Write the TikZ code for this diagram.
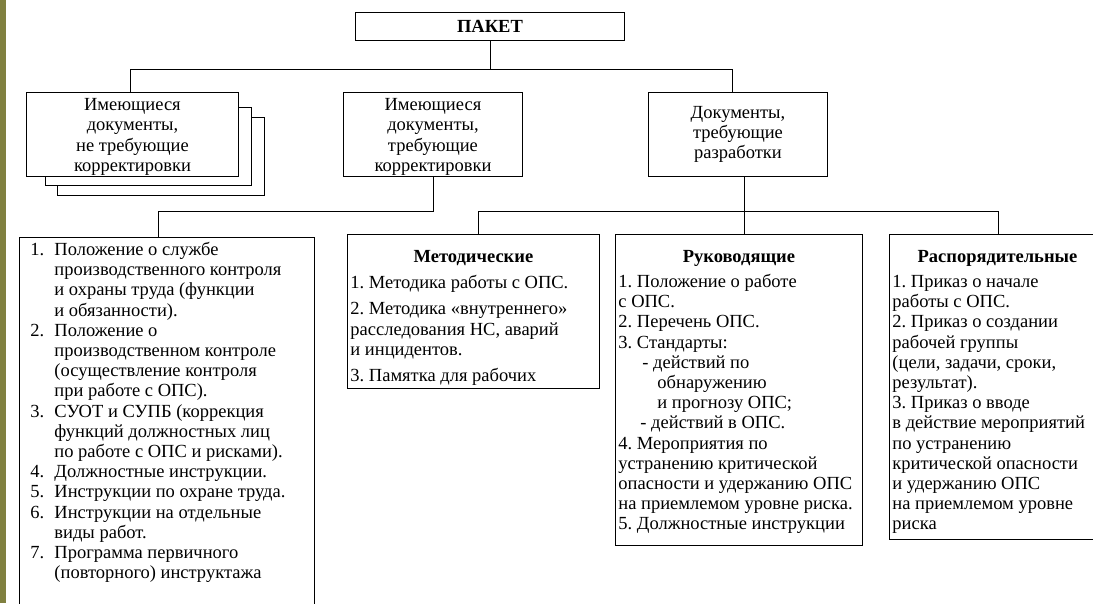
\documentclass[tikz,border=0pt]{standalone}
\usepackage{fontspec}
\setmainfont{Liberation Serif}
\usetikzlibrary{calc}
\frenchspacing
\definecolor{olivebar}{RGB}{128,128,64}
\newcommand\itm[2]{\mbox{\makebox[24pt][l]{#1}#2}\\}
\newcommand\cnt[1]{\mbox{\hspace*{24pt}#1}\\}
\newcommand\pl[1]{\mbox{#1}\\}
\tikzset{
  conn/.style={line width=0.9pt, draw=black},
  basebox/.style={draw, line width=0.9pt, fill=white, inner sep=0pt, anchor=north west,
    font=\fontsize{18.5}{20.2}\selectfont},
  topbox/.style={basebox, align=center},
  shadowbox/.style={draw, line width=0.9pt, fill=white}
}
\begin{document}
\begin{tikzpicture}[x=1pt,y=-1pt]
\clip (0,0) rectangle (1093,603);
\fill[white] (0,0) rectangle (1093,603);
\fill[olivebar] (0,0) rectangle (5.5,603);

% top
\node[topbox, minimum width=269pt, minimum height=28pt] (pak) at (355,12) {\textbf{ПАКЕТ}};

% stacked box
\draw[shadowbox] (57,117) rectangle (264,195);
\draw[shadowbox] (45,107) rectangle (251,185);
\node[topbox, minimum width=212pt, minimum height=84pt] (nreq) at (26,92)
  {\rule{0pt}{17pt}Имеющиеся\\документы,\\не требующие\\корректировки};
\node[topbox, minimum width=179pt, minimum height=84pt] (corr) at (343,92)
  {\rule{0pt}{17pt}Имеющиеся\\документы,\\требующие\\корректировки};
\node[topbox, minimum width=179pt, minimum height=84pt] (dev) at (648,92)
  {Документы,\\требующие\\разработки};

% bottom boxes
\node[basebox] (lst) at (19,237) {\begin{minipage}[c][400pt][t]{295pt}\leftskip=11pt
\vspace*{4pt}\strut\itm{1.}{Положение о службе}
\cnt{производственного контроля}
\cnt{и охраны труда (функции}
\cnt{и обязанности).}
\itm{2.}{Положение о}
\cnt{производственном контроле}
\cnt{(осуществление контроля}
\cnt{при работе с ОПС).}
\itm{3.}{СУОТ и СУПБ (коррекция}
\cnt{функций должностных лиц}
\cnt{по работе с ОПС и рисками).}
\itm{4.}{Должностные инструкции.}
\itm{5.}{Инструкции по охране труда.}
\itm{6.}{Инструкции на отдельные}
\cnt{виды работ.}
\itm{7.}{Программа первичного}
\mbox{\hspace*{24pt}(повторного) инструктажа}
\end{minipage}};

\node[basebox] (met) at (347,234) {\begin{minipage}[c][154pt][t]{252pt}
\vspace*{14pt}{\centering\strut\textbf{Методические}\par}
\leftskip=3pt
\vspace{6pt}\mbox{1. Методика работы с ОПС.}\par
\vspace{6pt}\pl{2. Методика «внутреннего»}
\pl{расследования НС, аварий}
\mbox{и инцидентов.}\par
\vspace{6pt}\mbox{3. Памятка для рабочих}
\end{minipage}};

\node[basebox] (ruk) at (615,234) {\begin{minipage}[c][311pt][t]{247pt}
\vspace*{14pt}{\centering\strut\textbf{Руководящие}\par}
\leftskip=3pt
\vspace{4.8pt}\pl{1. Положение о работе}
\pl{с ОПС.}
\pl{2. Перечень ОПС.}
\pl{3. Стандарты:}
\pl{\hspace*{24pt}- действий по}
\pl{\hspace*{39pt}обнаружению}
\pl{\hspace*{39pt}и прогнозу ОПС;}
\pl{\hspace*{22pt}- действий в ОПС.}
\pl{4. Мероприятия по}
\pl{устранению критической}
\pl{опасности и удержанию ОПС}
\pl{на приемлемом уровне риска.}
\mbox{5. Должностные инструкции}
\end{minipage}};

\node[basebox] (ras) at (889,234) {\begin{minipage}[c][305pt][t]{216pt}
\vspace*{14pt}{\centering\strut\textbf{Распорядительные}\par}
\leftskip=3pt
\vspace{4.8pt}\pl{1. Приказ о начале}
\pl{работы с ОПС.}
\pl{2. Приказ о создании}
\pl{рабочей группы}
\pl{(цели, задачи, сроки,}
\pl{результат).}
\pl{3. Приказ о вводе}
\pl{в действие мероприятий}
\pl{по устранению}
\pl{критической опасности}
\pl{и удержанию ОПС}
\pl{на приемлемом уровне}
\mbox{риска}
\end{minipage}};

% connectors
\draw[conn] (pak.south) -- ++(0,29);
\draw[conn] ($(nreq.north)+(-2,0)$) -- ++(0,-23) -| ($(dev.north)+(-5.5,0)$);
\draw[conn] (corr.south) -- ++(0,35) -| ($(lst.north west)+(139,0)$);
\draw[conn] ($(dev.south)+(6.5,0)$) -- ($(ruk.north)+(5.5,0)$);
\draw[conn] ($(met.north)+(5,0)$) -- ++(0,-23) -| ($(ras.north west)+(109,0)$);
\end{tikzpicture}
\end{document}
